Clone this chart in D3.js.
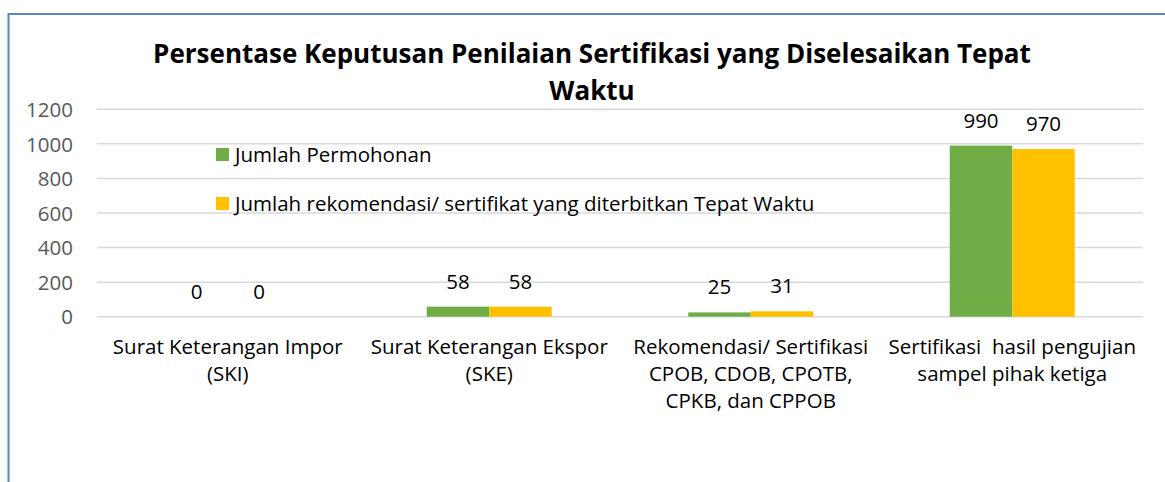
<!DOCTYPE html>
<html>
<head>
<meta charset="utf-8">
<script src="https://cdn.jsdelivr.net/npm/d3@7"></script>
<style>
  body { margin: 0; background: #fff; }
  svg text { font-family: "Open Sans", "Liberation Sans", sans-serif; }
</style>
</head>
<body>
<svg id="chart" width="1165" height="482"></svg>
<script>
var categories = [
	["Surat Keterangan Impor", "(SKI)"],
	["Surat Keterangan Ekspor", "(SKE)"],
	["Rekomendasi/ Sertifikasi", "CPOB, CDOB, CPOTB,", "CPKB, dan CPPOB"],
	["Sertifikasi  hasil pengujian", "sampel pihak ketiga"]
];
var seriesNames = ["Jumlah Permohonan", "Jumlah rekomendasi/ sertifikat yang diterbitkan Tepat Waktu"];
var permohonan = [0, 58, 25, 990];
var tepatWaktu = [0, 58, 31, 970];
var yTicks = [0, 200, 400, 600, 800, 1000, 1200];
var titleLines = ["Persentase Keputusan Penilaian Sertifikasi yang Diselesaikan Tepat", "Waktu"];

var COLORS = ["#70ad47", "#ffc000"];
var PLOT = {left: 97, right: 1143, top: 109.3, bottom: 316.7};
var FONT_SIZE = 20.5;

var svg = d3.select("#chart");

// frame (only top and left edges visible)
svg.append("line").attr("x1", 8.5).attr("x2", 1165).attr("y1", 14).attr("y2", 14)
	.attr("stroke", "#5b87c2").attr("stroke-width", 2);
svg.append("line").attr("x1", 8.5).attr("x2", 8.5).attr("y1", 13).attr("y2", 482)
	.attr("stroke", "#5b87c2").attr("stroke-width", 2);

var y = d3.scaleLinear().domain([0, 1200]).range([PLOT.bottom, PLOT.top]);
var x = d3.scaleBand().domain(d3.range(categories.length)).range([PLOT.left, PLOT.right]);
var xSub = d3.scaleBand().domain([0, 1]).range([0, x.bandwidth()]).paddingOuter(1.092);

// gridlines
svg.append("g").selectAll("line").data(yTicks).enter().append("line")
	.attr("x1", PLOT.left).attr("x2", PLOT.right)
	.attr("y1", function(d) { return y(d); }).attr("y2", function(d) { return y(d); })
	.attr("stroke", "#d9d9d9").attr("stroke-width", 1.5);

// y axis labels
var yAxis = d3.axisLeft(y).tickValues(yTicks).tickFormat(d3.format("d")).tickSize(0).tickPadding(0);
var yG = svg.append("g").attr("transform", "translate(73,0)").call(yAxis);
yG.select(".domain").remove();
yG.selectAll("text").attr("font-size", FONT_SIZE).attr("fill", "#595959")
	.style("font-family", "'Open Sans', sans-serif").attr("dy", "0.35em");

// bars
var seriesData = [permohonan, tepatWaktu];
seriesData.forEach(function(values, s) {
	var g = svg.append("g");
	g.selectAll("rect").data(values).enter().append("rect")
		.attr("x", function(d, i) { return x(i) + xSub(s); })
		.attr("width", xSub.bandwidth())
		.attr("y", function(d) { return y(d); })
		.attr("height", function(d) { return y(0) - y(d); })
		.attr("fill", COLORS[s]);
	g.selectAll("text").data(values).enter().append("text")
		.attr("x", function(d, i) { return x(i) + xSub(s) + xSub.bandwidth() / 2; })
		.attr("y", function(d) { return y(d) - 18; })
		.attr("text-anchor", "middle")
		.attr("font-size", FONT_SIZE)
		.attr("fill", "#000")
		.text(function(d) { return d; });
});

// category labels
svg.append("g").selectAll("text").data(categories).enter().append("text")
	.attr("text-anchor", "middle")
	.attr("font-size", FONT_SIZE)
	.attr("fill", "#000")
	.each(function(lines, i) {
		var t = d3.select(this);
		lines.forEach(function(line, k) {
			t.append("tspan")
				.attr("x", x(i) + x.bandwidth() / 2)
				.attr("y", 354 + k * 27)
				.style("white-space", "pre")
				.text(line);
		});
	});

// title
svg.append("text")
	.attr("text-anchor", "middle")
	.attr("font-size", 26)
	.attr("font-weight", "bold")
	.attr("fill", "#000")
	.each(function() {
		var t = d3.select(this);
		titleLines.forEach(function(line, k) {
			t.append("tspan").attr("x", 592).attr("y", 63 + k * 37).text(line);
		});
	});

// legend
var legend = svg.append("g").selectAll("g").data(seriesNames).enter().append("g")
	.attr("transform", function(d, i) { return "translate(216," + (148 + i * 49) + ")"; });
legend.append("rect").attr("width", 13).attr("height", 13)
	.attr("fill", function(d, i) { return COLORS[i]; });
legend.append("text").attr("x", 19).attr("y", 14)
	.attr("font-size", FONT_SIZE).attr("fill", "#000")
	.text(function(d) { return d; });
</script>
</body>
</html>
